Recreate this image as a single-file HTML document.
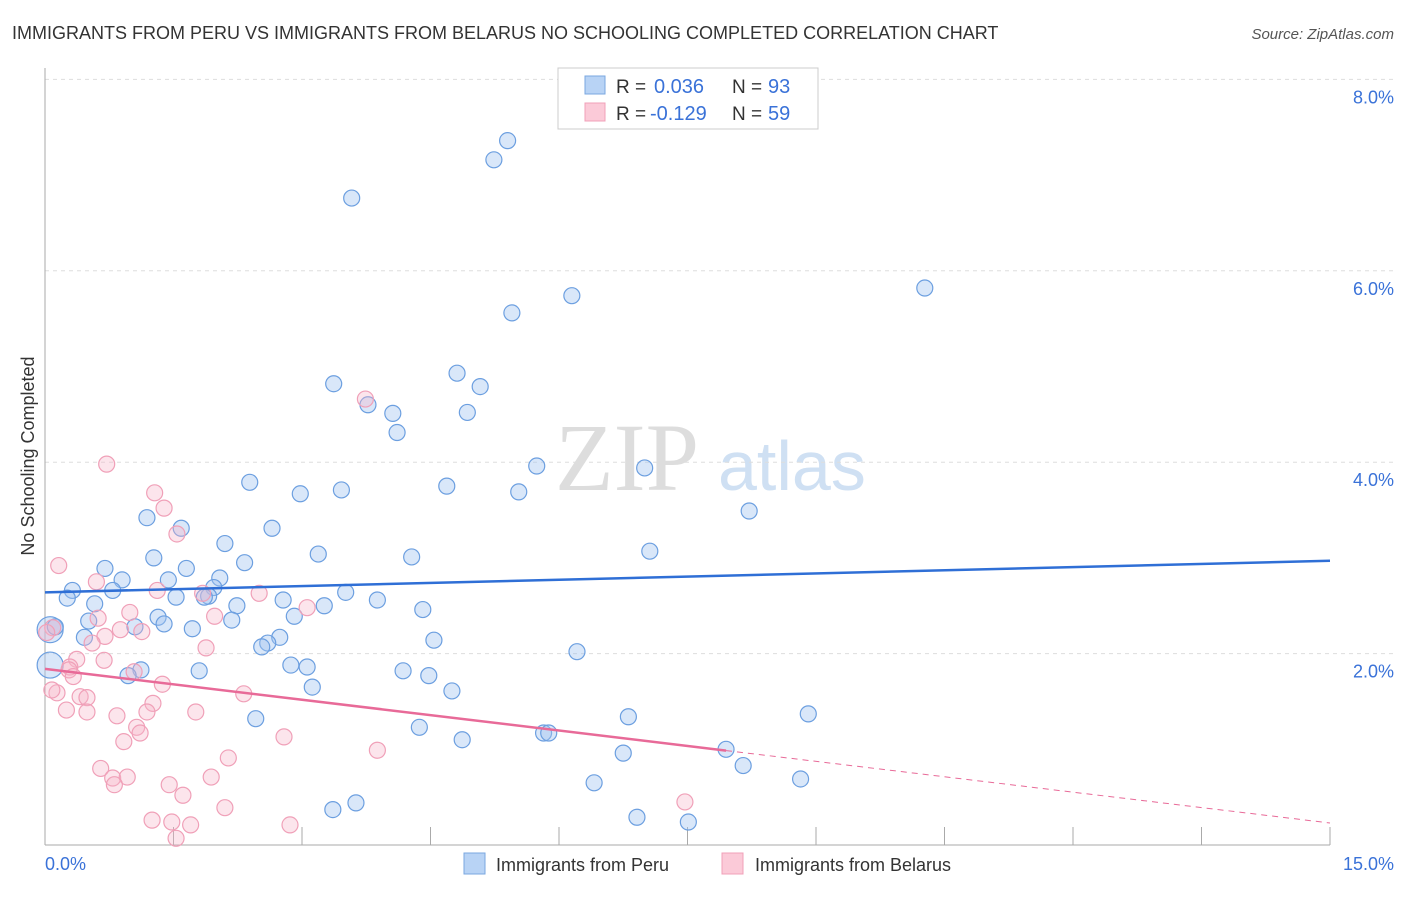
<!DOCTYPE html>
<html><head><meta charset="utf-8"><style>
body{margin:0;background:#fff;width:1406px;height:892px;overflow:hidden;font-family:"Liberation Sans",sans-serif}
</style></head><body>
<svg id="chart" width="1406" height="892" xmlns="http://www.w3.org/2000/svg" font-family="Liberation Sans, sans-serif">
<text x="12" y="39" font-size="18" fill="#333">IMMIGRANTS FROM PERU VS IMMIGRANTS FROM BELARUS NO SCHOOLING COMPLETED CORRELATION CHART</text>
<text x="1394" y="39" font-size="15" fill="#555" text-anchor="end" font-style="italic">Source: ZipAtlas.com</text>
<text transform="translate(34,456) rotate(-90)" font-size="18" fill="#333" text-anchor="middle">No Schooling Completed</text>
<g font-size="96">
<text x="555" y="490" fill="#ddd" font-family="Liberation Serif, serif">ZIP</text>
<text x="718" y="490" fill="#cfe0f3" font-size="70">atlas</text>
</g>
<g id="grid"></g><g id="pts"></g><g id="lines"></g>
<g>
<rect x="558" y="68" width="260" height="61" fill="#fff" stroke="#ccc"/>
<rect x="585" y="76" width="20" height="18" fill="#b8d3f5" stroke="#7aa7e0"/>
<rect x="585" y="103" width="20" height="18" fill="#fbcad8" stroke="#f0a0b8"/>
<text x="616" y="93" font-size="19" fill="#333">R =</text>
<text x="654" y="93" font-size="20" fill="#3a72d8">0.036</text>
<text x="732" y="93" font-size="19" fill="#333">N =</text>
<text x="768" y="93" font-size="20" fill="#3a72d8">93</text>
<text x="616" y="120" font-size="19" fill="#333">R =</text>
<text x="650" y="120" font-size="20" fill="#3a72d8">-0.129</text>
<text x="732" y="120" font-size="19" fill="#333">N =</text>
<text x="768" y="120" font-size="20" fill="#3a72d8">59</text>
</g>
<g>
<rect x="464" y="853" width="21" height="21" fill="#b8d3f5" stroke="#7aa7e0"/>
<text x="496" y="871" font-size="18" fill="#333">Immigrants from Peru</text>
<rect x="722" y="853" width="21" height="21" fill="#fbcad8" stroke="#f0a0b8"/>
<text x="755" y="871" font-size="18" fill="#333">Immigrants from Belarus</text>
</g>
</svg>
<script>
const yTicks=[2,4,6,8];
const yTickLabels=["2.0%","4.0%","6.0%","8.0%"];
const xEndLabels=["0.0%","15.0%"];
const peruX=[5.40,5.24,3.58,6.15,5.45,10.27,3.37,4.81,5.08,3.77,4.06,4.93,4.11,5.74,7.00,2.39,4.69,2.98,3.46,5.53,8.22,1.19,1.59,2.65,2.10,7.06,3.19,1.27,4.28,2.33,0.70,1.65,0.90,1.44,2.04,1.97,0.32,0.26,0.79,1.53,3.51,1.91,2.78,1.86,3.88,0.58,2.24,3.26,1.32,2.91,2.18,4.41,0.51,1.39,1.05,1.72,2.74,2.60,0.46,0.06,0.12,4.54,2.53,6.21,2.87,3.06,1.12,1.80,4.18,0.97,4.48,3.12,4.75,8.91,6.81,2.46,4.37,5.82,5.88,4.87,7.95,6.75,8.15,8.82,6.41,3.63,3.36,6.91,7.51,0.06];
const peruY=[7.36,7.16,6.76,5.74,5.56,5.82,4.82,4.93,4.79,4.60,4.51,4.52,4.31,3.96,3.94,3.79,3.75,3.67,3.71,3.69,3.49,3.42,3.31,3.31,3.15,3.07,3.04,3.00,3.01,2.95,2.89,2.89,2.77,2.77,2.79,2.69,2.66,2.58,2.66,2.59,2.64,2.60,2.56,2.59,2.56,2.52,2.50,2.50,2.38,2.39,2.35,2.46,2.34,2.31,2.28,2.26,2.17,2.11,2.17,2.25,2.28,2.14,2.07,2.02,1.88,1.86,1.83,1.82,1.82,1.77,1.77,1.65,1.61,1.37,1.34,1.32,1.23,1.17,1.17,1.10,1.00,0.96,0.83,0.69,0.65,0.44,0.37,0.29,0.24,1.88];
const belX=[0.72,1.28,1.39,1.54,3.74,0.16,0.60,1.31,1.84,2.50,3.06,0.99,0.62,1.98,0.09,0.02,0.88,1.13,0.70,0.55,1.88,0.37,0.69,0.29,0.28,1.04,0.33,1.37,0.14,0.41,0.49,2.32,0.08,1.26,0.25,0.49,1.76,0.84,1.19,1.07,1.11,2.79,0.92,3.88,2.14,0.65,0.79,0.96,1.94,0.81,1.45,1.61,2.10,7.47,1.25,1.48,1.70,2.86,1.53];
const belY=[3.98,3.68,3.52,3.25,4.66,2.92,2.75,2.66,2.63,2.63,2.48,2.43,2.37,2.39,2.27,2.22,2.25,2.23,2.18,2.11,2.06,1.94,1.93,1.86,1.83,1.81,1.76,1.68,1.59,1.55,1.54,1.58,1.62,1.48,1.41,1.39,1.39,1.35,1.39,1.23,1.17,1.13,1.08,0.99,0.91,0.80,0.70,0.71,0.71,0.63,0.63,0.52,0.39,0.45,0.26,0.24,0.21,0.21,0.07];
const peruTrend=[2.64,2.97];
const belTrend=[1.84,0.23];
const belSolidEnd=7.95;

const NS="http://www.w3.org/2000/svg";
const X0=45,X1=1330,YB=845,PX=(X1-X0)/15,PY=95.7;
const sx=v=>X0+v*PX, sy=v=>YB-v*PY;
function mk(tag,attrs,parent){const e=document.createElementNS(NS,tag);for(const k in attrs)e.setAttribute(k,attrs[k]);parent.appendChild(e);return e;}
const grid=document.getElementById('grid');
yTicks.forEach((t,i)=>{
 const l=mk('line',{x1:X0,x2:1394,y1:sy(t),y2:sy(t),stroke:'#ddd','stroke-dasharray':'4,4'},grid);
 
 
 const tx=mk('text',{x:1394,y:sy(t)+24,'font-size':18,fill:'#3a72d8','text-anchor':'end'},grid);
 tx.textContent=yTickLabels[i];
 
 
});
const ax=mk('line',{x1:X0,x2:X0,y1:68,y2:YB,stroke:'#aaa'},grid);


const bx=mk('line',{x1:X0,x2:X1,y1:YB,y2:YB,stroke:'#aaa'},grid);


for(let i=1;i<=10;i++){const t=mk('line',{x1:sx(i*1.5),x2:sx(i*1.5),y1:YB-18,y2:YB,stroke:'#aaa'},grid);
 
 }
const xl=mk('text',{x:45,y:870,'font-size':18,fill:'#3a72d8'},grid);xl.textContent=xEndLabels[0];


const xr=mk('text',{x:1394,y:870,'font-size':18,fill:'#3a72d8','text-anchor':'end'},grid);xr.textContent=xEndLabels[1];


const pts=document.getElementById('pts');
peruX.forEach((x,i)=>{const big=(i===peruX.length-1||i===59);
 const c=mk('circle',{cx:sx(x),cy:sy(peruY[i]),r:big?13:8,fill:'rgba(160,196,240,0.4)',stroke:'#6c9fe0','stroke-width':1.2},pts);
 
 });
belX.forEach((x,i)=>{
 const c=mk('circle',{cx:sx(x),cy:sy(belY[i]),r:8,fill:'rgba(245,180,200,0.35)',stroke:'#f0a0b8','stroke-width':1.2},pts);
 
 });
const lines=document.getElementById('lines');
const pl=mk('line',{x1:sx(0),x2:sx(15),y1:sy(peruTrend[0]),y2:sy(peruTrend[1]),stroke:'#2f6fd6','stroke-width':2.5},lines);


const bAt=x=>belTrend[0]+(belTrend[1]-belTrend[0])*x/15;
const bl=mk('line',{x1:sx(0),x2:sx(belSolidEnd),y1:sy(belTrend[0]),y2:sy(bAt(belSolidEnd)),stroke:'#e86a98','stroke-width':2.5},lines);


const bd=mk('line',{x1:sx(belSolidEnd),x2:sx(15),y1:sy(bAt(belSolidEnd)),y2:sy(belTrend[1]),stroke:'#e86a98','stroke-width':1,'stroke-dasharray':'6,5'},lines);


</script>
</body></html>
